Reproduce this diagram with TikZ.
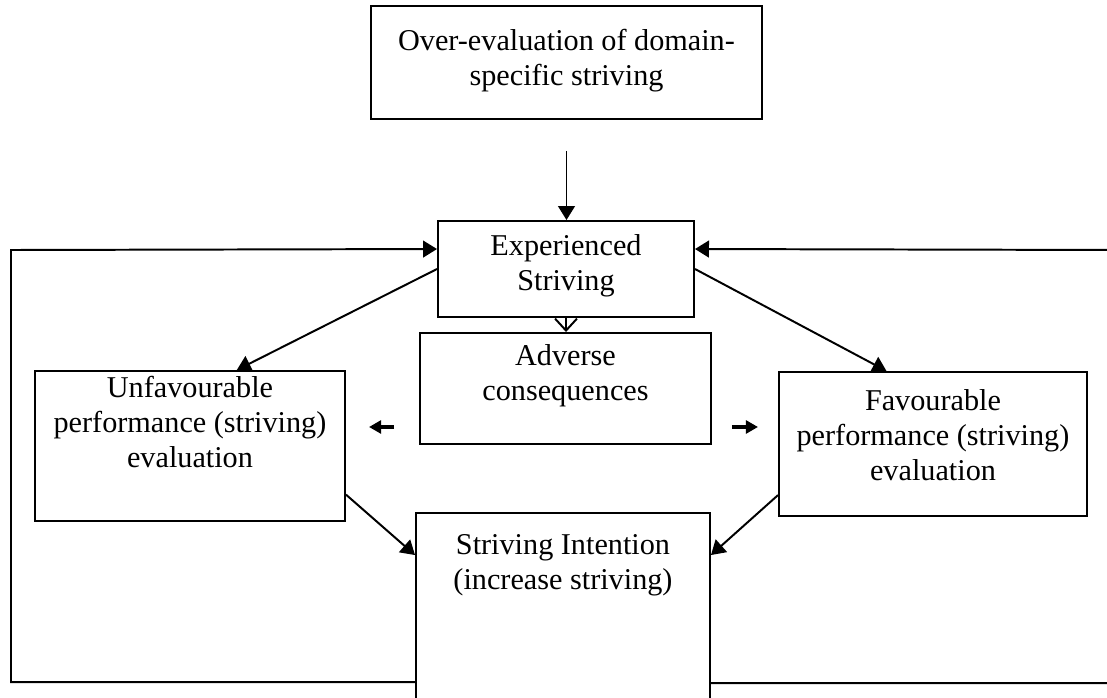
\documentclass[tikz,border=0pt]{standalone}
\usepackage{fontspec}
\setmainfont{Liberation Serif}
\usetikzlibrary{positioning,arrows.meta,calc}

\begin{document}
\begin{tikzpicture}[
		box/.style={draw, line width=1.4pt, inner sep=0pt},
		txt/.style={align=center, inner sep=0pt, font=\fontsize{21.5}{25}\selectfont},
		arr/.style={-{Triangle[length=0.35cm, width=0.42cm]}, line width=1.4pt},
		stub/.style={-{Triangle[length=0.3cm, width=0.32cm]}, line width=2.2pt}
	]
			\clip (0, 0) rectangle (27.675, -17.425);

			% boxes
			\node[box, minimum width=9.775cm, minimum height=2.825cm] (over) at (14.1625, -1.5625) {};
			\node[box, minimum width=6.4cm, minimum height=2.4cm] (exp) at (14.15, -6.725) {};
			\node[box, minimum width=7.275cm, minimum height=2.775cm] (adverse) at (14.1375, -9.7125) {};
			\node[box, minimum width=7.75cm, minimum height=3.75cm] (unfav) at (4.75, -11.15) {};
			\node[box, minimum width=7.7cm, minimum height=3.6cm] (fav) at (23.325, -11.1) {};
			\node[box, minimum width=7.35cm, minimum height=4.8cm] (intent) at (14.075, -15.225) {};

			% texts
			\node[txt, below=0.6cm of over.north] (over-t) {Over-evaluation of domain-\\specific striving};
			\node[txt, below=0.35cm of exp.north] (exp-t) {Experienced\\Striving};
			\node[txt, below=0.3cm of adverse.north] (adverse-t) {Adverse\\consequences};
			\node[txt, below=0.15cm of unfav.north] (unfav-t) {Unfavourable\\performance (striving)\\evaluation};
			\node[txt, below=0.45cm of fav.north] (fav-t) {Favourable\\performance (striving)\\evaluation};
			\node[txt, below=0.55cm of intent.north] (intent-t) {Striving Intention\\(increase striving)};

			% feedback corners
			\coordinate (lcorner) at (0.275, -6.25);
			\coordinate (rcorner) at (28, -6.25);

			\draw[arr, shorten <=0.775cm]	(over.south) to (over.south |- exp.north);
			\draw[-{Straight Barb[length=0.3cm, width=0.55cm]}, line width=1.4pt]	(exp.south) to (exp.south |- adverse.north);

			\draw[arr]	(exp.west) to ($(unfav.north west)!0.65!(unfav.north east)$);
			\draw[arr]	(exp.east) to ($(fav.north west)!0.35!(fav.north east)$);
			\draw[arr]	($(unfav.north east)!0.82!(unfav.south east)$) to ([yshift=-1.075cm]intent.north west);
			\draw[arr]	($(fav.north west)!0.85!(fav.south west)$) to ([yshift=-1.075cm]intent.north east);

			\draw[stub]	([xshift=-0.625cm, yshift=0.45cm]adverse.south west) to ++(-0.625, 0);
			\draw[stub]	([xshift=0.5cm, yshift=0.45cm]adverse.south east) to ++(0.65, 0);

			\draw[arr]	([yshift=-4.25cm]intent.north west) -| (lcorner) to ([yshift=-0.725cm]exp.north west);
			\draw[arr]	([yshift=-4.275cm]intent.north east) -| (rcorner) to ([yshift=-0.725cm]exp.north east);
		\end{tikzpicture}
\end{document}
